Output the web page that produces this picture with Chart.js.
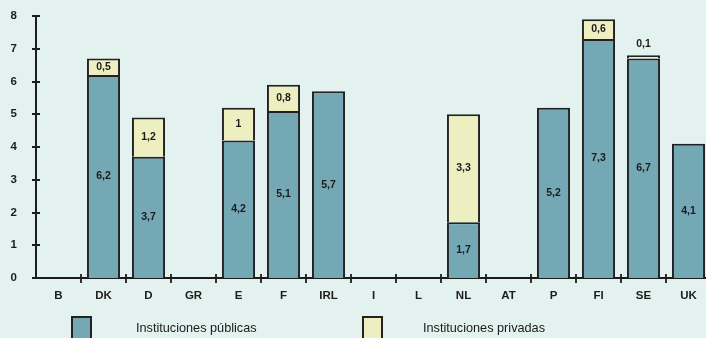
<!DOCTYPE html>
<html>
<head>
<meta charset="utf-8">
<script src="https://cdn.jsdelivr.net/npm/chart.js@4/dist/chart.umd.min.js"></script>
<style>
  html, body { margin: 0; padding: 0; background: #e3f2ee; overflow: hidden; }
  #wrap { position: relative; width: 706px; height: 338px; overflow: hidden; }
  #chart { position: absolute; left: 0; top: 0; }
  .leg { position: absolute; font: 12.7px "Liberation Sans", Arial, sans-serif; color: #1a1a1a; }
  .leg .box { position: absolute; width: 21px; height: 24px; border: 2px solid #222; box-sizing: border-box; }
  .leg .txt { position: absolute; white-space: nowrap; }
</style>
</head>
<body>
<div id="wrap">
  <canvas id="chart" width="711" height="338"></canvas>
  <div id="legend"></div>
</div>
<script>
// Países
const categories = ['B', 'DK', 'D', 'GR', 'E', 'F', 'IRL', 'I', 'L', 'NL', 'AT', 'P', 'FI', 'SE', 'UK'];
// Instituciones públicas
const publicas = [null, 6.2, 3.7, null, 4.2, 5.1, 5.7, null, null, 1.7, null, 5.2, 7.3, 6.7, 4.1];
// Instituciones privadas
const privadas = [null, 0.5, 1.2, null, 1, 0.8, null, null, null, 3.3, null, null, 0.6, 0.1, null];
const yTicks = [0, 1, 2, 3, 4, 5, 6, 7, 8];

const INK = '#1c1c1c';
const FONT = '"Liberation Sans", Arial, sans-serif';

const fmt = v => String(v).replace('.', ',');

// Marcas de escala que cruzan los ejes
const crossTicks = {
  id: 'crossTicks',
  afterDraw(chart) {
    const { ctx, chartArea: a, scales: { x, y } } = chart;
    ctx.save();
    ctx.strokeStyle = INK;
    ctx.lineWidth = 1.8;
    ctx.beginPath();
    y.ticks.forEach(t => {
      const py = Math.round(y.getPixelForValue(t.value));
      ctx.moveTo(a.left - 4, py);
      ctx.lineTo(a.left + 4, py);
    });
    const w = x.width / categories.length;
    for (let i = 1; i < categories.length; i++) {
      const px = Math.round(a.left + i * w);
      ctx.moveTo(px, a.bottom - 4);
      ctx.lineTo(px, a.bottom + 5);
    }
    ctx.stroke();
    ctx.restore();
  }
};

// Valores escritos sobre cada tramo de barra
const valueLabels = {
  id: 'valueLabels',
  afterDatasetsDraw(chart) {
    const { ctx } = chart;
    ctx.save();
    ctx.font = 'bold 10.5px ' + FONT;
    ctx.fillStyle = INK;
    ctx.textAlign = 'center';
    ctx.textBaseline = 'middle';
    chart.data.datasets.forEach((ds, di) => {
      const meta = chart.getDatasetMeta(di);
      meta.data.forEach((el, i) => {
        const v = ds.data[i];
        if (v === null || v === undefined) return;
        const h = Math.abs(el.base - el.y);
        if (h >= 14) {
          ctx.fillText(fmt(v), el.x, (el.y + el.base) / 2);
        } else {
          ctx.fillText(fmt(v), el.x, el.y - 11);
        }
      });
    });
    ctx.restore();
  }
};

const chart = new Chart(document.getElementById('chart'), {
  type: 'bar',
  data: {
    labels: categories,
    datasets: [
      {
        label: 'Instituciones públicas',
        data: publicas,
        backgroundColor: '#73a8b4',
        borderColor: '#222',
        borderWidth: 2,
        barPercentage: 0.735,
        categoryPercentage: 1
      },
      {
        label: 'Instituciones privadas',
        data: privadas,
        backgroundColor: '#eeefc0',
        borderColor: '#222',
        borderWidth: 2,
        barPercentage: 0.735,
        categoryPercentage: 1
      }
    ]
  },
  options: {
    responsive: false,
    animation: false,
    devicePixelRatio: 1,
    layout: { padding: { top: 16, right: 0, left: 0, bottom: 0 } },
    plugins: { legend: { display: false }, tooltip: { enabled: false } },
    scales: {
      x: {
        stacked: true,
        grid: { display: false, drawTicks: false },
        border: { display: true, color: INK, width: 2 },
        ticks: { color: INK, font: { family: FONT, size: 11.5, weight: 'bold' }, padding: 11 },
        afterFit(s) { s.height = 60; s.paddingLeft = 0; s.paddingRight = 0; }
      },
      y: {
        stacked: true,
        min: 0,
        max: 8,
        afterBuildTicks(s) { s.ticks = yTicks.map(v => ({ value: v })); },
        grid: { display: false, drawTicks: false },
        border: { display: true, color: INK, width: 2 },
        ticks: { color: INK, font: { family: FONT, size: 11.5, weight: 'bold' }, padding: 19 },
        afterFit(s) { s.width = 36; s.paddingTop = 0; s.paddingBottom = 0; }
      }
    }
  },
  plugins: [crossTicks, valueLabels]
});

// Leyenda
const legendPos = [{ box: 71, text: 136 }, { box: 362, text: 423 }];
const legendEl = document.getElementById('legend');
chart.data.datasets.forEach((ds, i) => {
  const item = document.createElement('div');
  item.className = 'leg';
  item.style.left = '0px';
  item.style.top = '0px';
  const box = document.createElement('div');
  box.className = 'box';
  box.style.left = legendPos[i].box + 'px';
  box.style.top = '316px';
  box.style.background = ds.backgroundColor;
  const txt = document.createElement('div');
  txt.className = 'txt';
  txt.style.left = legendPos[i].text + 'px';
  txt.style.top = '321px';
  txt.textContent = ds.label;
  item.appendChild(box);
  item.appendChild(txt);
  legendEl.appendChild(item);
});
</script>
</body>
</html>
